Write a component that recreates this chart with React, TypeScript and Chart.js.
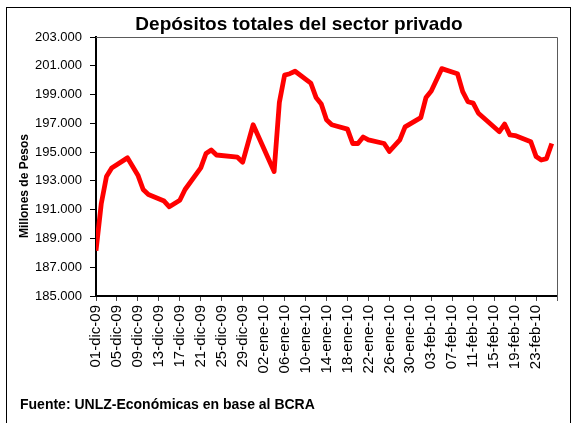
import React, { useEffect, useRef } from 'react';
import { Chart, registerables } from 'chart.js';

Chart.register(...registerables);

// ---- Data ----
const dates: string[] = [
  '2009-12-01', '2009-12-02', '2009-12-03', '2009-12-04', '2009-12-07', '2009-12-09', '2009-12-10',
  '2009-12-11', '2009-12-14', '2009-12-15', '2009-12-17', '2009-12-18', '2009-12-21', '2009-12-22',
  '2009-12-23', '2009-12-24', '2009-12-28', '2009-12-29', '2009-12-31', '2010-01-04', '2010-01-05',
  '2010-01-06', '2010-01-07', '2010-01-08', '2010-01-11', '2010-01-12', '2010-01-13', '2010-01-14',
  '2010-01-15', '2010-01-18', '2010-01-19', '2010-01-20', '2010-01-21', '2010-01-22', '2010-01-25',
  '2010-01-26', '2010-01-28', '2010-01-29', '2010-02-01', '2010-02-02', '2010-02-03', '2010-02-05',
  '2010-02-08', '2010-02-09', '2010-02-10', '2010-02-11', '2010-02-12', '2010-02-16', '2010-02-17',
  '2010-02-18', '2010-02-19', '2010-02-22', '2010-02-23', '2010-02-24', '2010-02-25', '2010-02-26',
];

const depositos: number[] = [
  188150, 191400, 193300, 193900, 194600, 193400, 192400,
  192050, 191600, 191200, 191650, 192400, 193900, 194900,
  195150, 194800, 194650, 194300, 196900, 193650, 198450,
  200350, 200450, 200620, 199800, 198800, 198350, 197250,
  196900, 196600, 195600, 195600, 196050, 195850, 195600,
  195050, 195850, 196750, 197400, 198800, 199250, 200800,
  200450, 199200, 198500, 198400, 197700, 196420, 196950,
  196200, 196150, 195720, 194700, 194450, 194550, 195600,
];

const tickLabels: string[] = [
  '01-dic-09', '05-dic-09', '09-dic-09', '13-dic-09', '17-dic-09', '21-dic-09', '25-dic-09',
  '29-dic-09', '02-ene-10', '06-ene-10', '10-ene-10', '14-ene-10', '18-ene-10', '22-ene-10',
  '26-ene-10', '30-ene-10', '03-feb-10', '07-feb-10', '11-feb-10', '15-feb-10', '19-feb-10',
  '23-feb-10',
];

const axisStart = '2009-12-01';
const axisEnd = '2010-02-27';

const yMin = 185000;
const yMax = 203000;
const yStep = 2000;

const titleText = 'Depósitos totales del sector privado';
const yTitleText = 'Millones de Pesos';
const sourceText = 'Fuente: UNLZ-Económicas en base al BCRA';

// ---- Helpers ----
const MS_DAY = 86400000;
const MONTHS: Record<string, number> = { ene: 0, feb: 1, mar: 2, abr: 3, may: 4, jun: 5, jul: 6, ago: 7, sep: 8, oct: 9, nov: 10, dic: 11 };

function isoToMs(s: string): number {
  const [y, m, d] = s.split('-').map(Number);
  return Date.UTC(y, m - 1, d);
}
const t0 = isoToMs(axisStart);
function isoToDay(s: string): number {
  return (isoToMs(s) - t0) / MS_DAY;
}
function labelToDay(s: string): number {
  const [d, mon, yy] = s.split('-');
  return (Date.UTC(2000 + Number(yy), MONTHS[mon], Number(d)) - t0) / MS_DAY;
}
function fmtThousands(v: number): string {
  const k = Math.floor(v / 1000);
  const r = Math.round(v % 1000);
  return `${k}.${String(r).padStart(3, '0')}`;
}

const tickDays = tickLabels.map(labelToDay);

const FONT = '"Liberation Sans", Arial, sans-serif';

const decorPlugin = {
  id: 'decor',
  beforeDatasetsDraw(chart: any) {
    const { ctx, chartArea: a } = chart;
    ctx.save();
    // outer frame
    ctx.strokeStyle = '#000';
    ctx.lineWidth = 1;
    ctx.strokeRect(6.5, 7.5, 564, 440);
    // plot area top & right border
    ctx.strokeStyle = '#5a5a5a';
    ctx.beginPath();
    ctx.moveTo(a.left, a.top + 0.5);
    ctx.lineTo(a.right + 0.5, a.top + 0.5);
    ctx.lineTo(a.right + 0.5, a.bottom + 5);
    ctx.stroke();
    ctx.restore();
  },
  afterDraw(chart: any) {
    const { ctx } = chart;
    ctx.save();
    ctx.fillStyle = '#000';
    // title
    ctx.font = `bold 19px ${FONT}`;
    ctx.textAlign = 'center';
    ctx.textBaseline = 'alphabetic';
    ctx.fillText(titleText, 299, 30);
    // y axis title
    ctx.save();
    ctx.translate(28, 186);
    ctx.rotate(-Math.PI / 2);
    ctx.font = `bold 12px ${FONT}`;
    ctx.textAlign = 'center';
    ctx.fillText(yTitleText, 0, 0);
    ctx.restore();
    // source
    ctx.font = `bold 14px ${FONT}`;
    ctx.textAlign = 'left';
    ctx.fillText(sourceText, 20, 409);
    ctx.restore();
  },
};

export default function App() {
  const ref = useRef<HTMLCanvasElement | null>(null);

  useEffect(() => {
    if (!ref.current) return;
    const data = dates.map((d, i) => ({ x: isoToDay(d), y: depositos[i] }));
    const chart = new Chart(ref.current, {
      type: 'line',
      data: {
        datasets: [
          {
            label: titleText,
            data,
            borderColor: '#FF0000',
            backgroundColor: '#FF0000',
            borderWidth: 4.8,
            pointRadius: 0,
            pointHoverRadius: 0,
            tension: 0,
            borderJoinStyle: 'round',
            borderCapStyle: 'butt',
            fill: false,
          },
        ],
      },
      options: {
        animation: false,
        responsive: false,
        maintainAspectRatio: false,
        layout: { padding: { left: 0, right: 20, top: 37, bottom: 0 } },
        plugins: {
          legend: { display: false },
          title: { display: false },
          tooltip: { enabled: false },
        },
        scales: {
          x: {
            type: 'linear',
            min: 0,
            max: isoToDay(axisEnd),
            afterBuildTicks: (scale: any) => {
              scale.ticks = tickDays.map((v) => ({ value: v }));
            },
            afterFit: (scale: any) => {
              scale.height = 127;
            },
            grid: {
              display: true,
              drawOnChartArea: false,
              drawTicks: true,
              tickLength: 5,
              color: '#444',
            },
            border: { display: true, color: '#000', width: 2 },
            ticks: {
              autoSkip: false,
              minRotation: 90,
              maxRotation: 90,
              padding: 4,
              color: '#000',
              font: { family: FONT, size: 15 },
              callback: (_v: any, i: number) => tickLabels[i],
            },
          },
          y: {
            min: yMin,
            max: yMax,
            afterFit: (scale: any) => {
              scale.width = 96;
            },
            grid: {
              display: true,
              drawOnChartArea: false,
              drawTicks: true,
              tickLength: 6,
              color: '#000',
            },
            border: { display: true, color: '#000', width: 2 },
            ticks: {
              stepSize: yStep,
              padding: 8,
              color: '#000',
              font: { family: FONT, size: 13 },
              callback: (v: any) => fmtThousands(Number(v)),
            },
          },
        },
      },
      plugins: [decorPlugin],
    } as any);
    return () => chart.destroy();
  }, []);

  return (
    <div style={{ position: 'absolute', left: 0, top: 0, width: 577, height: 423, background: '#fff' }}>
      <canvas ref={ref} width={577} height={423} style={{ display: 'block' }} />
    </div>
  );
}
